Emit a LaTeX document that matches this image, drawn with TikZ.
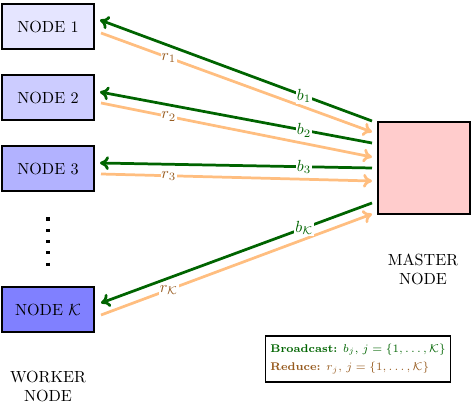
\documentclass[tikz,border=0pt]{standalone}
\usepackage{amsmath}
\usetikzlibrary{arrows.meta}
\definecolor{bgreen}{RGB}{0,100,0}
\definecolor{rorange}{RGB}{255,190,128}
\definecolor{rbrown}{RGB}{150,90,30}
\begin{document}
\begin{tikzpicture}[x=0.62pt,y=-0.62pt,
  worker/.style={draw=black, line width=1.2pt, minimum width=57pt, minimum height=28pt, inner sep=0pt},
  master/.style={draw=black, line width=1.2pt, fill=red!20, minimum width=57pt, minimum height=57pt, inner sep=0pt},
  bcast/.style={draw=bgreen, line width=1.7pt, -{To[length=5.5pt,width=8.5pt]}},
  reduce/.style={draw=rorange, line width=1.7pt, -{To[length=5.5pt,width=8.5pt]}},
  blab/.style={fill=white, text=bgreen, inner sep=0.6pt, pos=0.25},
  rlab/.style={fill=white, text=rbrown, inner sep=0.6pt, pos=0.25},
  caption/.style={align=center, font=\normalsize}]
\useasboundingbox (0,0) rectangle (475,404);
% worker nodes
\node[worker, fill=blue!10] (n1) at (48,26.5) {NODE 1};
\node[worker, fill=blue!20] (n2) at (48,97.5) {NODE 2};
\node[worker, fill=blue!30] (n3) at (48,168.5) {NODE 3};
\node[worker, fill=blue!50] (nk) at (48,309.5) {NODE $\mathcal{K}$};
% master
\node[master] (m) at (424,168) {};
% endpoints
\coordinate (g1s) at (372,121); \coordinate (g1e) at (100,20);
\coordinate (o1s) at (101,33);  \coordinate (o1e) at (372,132);
\coordinate (g2s) at (372,143); \coordinate (g2e) at (100,92);
\coordinate (o2s) at (101,103); \coordinate (o2e) at (372,157);
\coordinate (g3s) at (372,168); \coordinate (g3e) at (100,163);
\coordinate (o3s) at (101,174); \coordinate (o3e) at (372,181);
\coordinate (gks) at (372,203); \coordinate (gke) at (101,303);
\coordinate (oks) at (101,315); \coordinate (oke) at (372,214);
% reduce arrows
\draw[reduce] (o1s) -- node[rlab] {$r_1$} (o1e);
\draw[reduce] (o2s) -- node[rlab] {$r_2$} (o2e);
\draw[reduce] (o3s) -- node[rlab] {$r_3$} (o3e);
\draw[reduce] (oks) -- node[rlab] {$r_{\mathcal{K}}$} (oke);
% broadcast arrows
\draw[bcast] (g1s) -- node[blab] {$b_1$} (g1e);
\draw[bcast] (g2s) -- node[blab] {$b_2$} (g2e);
\draw[bcast] (g3s) -- node[blab] {$b_3$} (g3e);
\draw[bcast] (gks) -- node[blab] {$b_{\mathcal{K}}$} (gke);
% dots
\coordinate (d1) at (48,217.5);
\coordinate (d2) at (48,266);
\draw[line width=2pt, dash pattern=on 1.9pt off 5.1pt] (d1) -- (d2);
% captions
\node[caption] (wc) at (48,386.5) {WORKER\\NODE};
\node[caption] (mc) at (423,269.5) {MASTER\\NODE};
% legend
\node[draw=black, line width=1.2pt, align=left, font=\fontsize{6.9}{11.6}\selectfont, inner xsep=3pt, inner ysep=4pt, minimum width=106pt, minimum height=29pt] (leg) at (358,359)
 {\textcolor{bgreen}{\textbf{Broadcast:} $b_j$, $j=\{1,\ldots,\mathcal{K}\}$}\\
  \textcolor{rbrown}{\textbf{Reduce:} $r_j$, $j=\{1,\ldots,\mathcal{K}\}$}};
\end{tikzpicture}
\end{document}
